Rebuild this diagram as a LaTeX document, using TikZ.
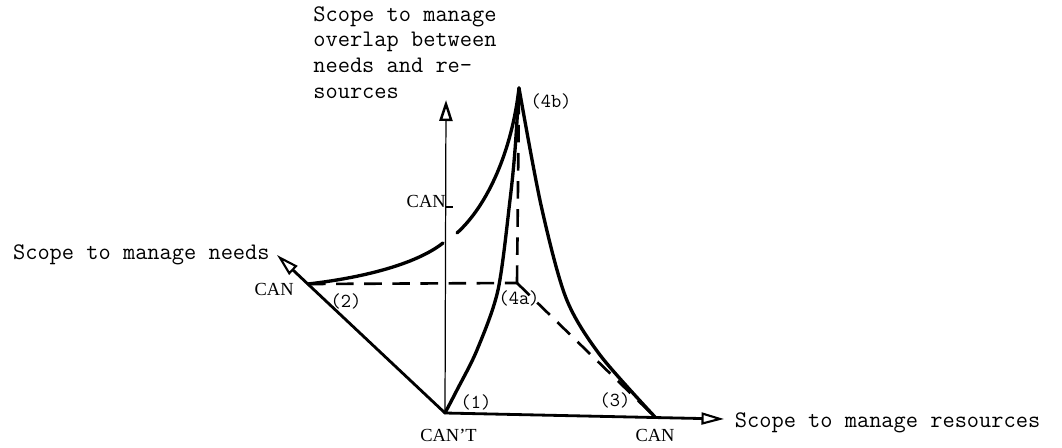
\documentclass[tikz,border=0pt]{standalone}
\usepackage{fontspec}
\setmainfont{Liberation Serif}
\usepackage{tikz}
\usetikzlibrary{arrows.meta,positioning}
\tikzset{
    axisline/.style={line width=1.6pt, -{Triangle[open, length=4.5mm, width=2.4mm, line width=1.2pt]}},
    upaxis/.style={line width=0.7pt, -{Triangle[open, length=4.2mm, width=2.6mm, line width=1.4pt]}},
    bound/.style={line width=1.9pt, line cap=round},
    hidden/.style={line width=1.5pt, dash pattern=on 10pt off 6pt},
    axtitle/.style={font=\ttfamily\fontsize{13.5}{14.7}\selectfont, align=left, inner sep=0pt},
    region/.style={font=\ttfamily\fontsize{11.3}{13}\selectfont, inner sep=0pt},
    level/.style={font=\fontsize{10.5}{12}\selectfont, inner sep=0pt},
}

\begin{document}
\begin{tikzpicture}[x=0.02cm, y=-0.02cm, node distance=4pt]
    \useasboundingbox (0,0) rectangle (1062,447);
    \coordinate (O) at (445,413);
    \coordinate (upEnd) at (446,100);
    \coordinate (needEnd) at (277,255);
    \coordinate (resEnd) at (724,419);
    \coordinate (needCan) at (308,284);
    \coordinate (resCan) at (655,417);
    \coordinate (upCan) at (446,207);
    \coordinate (p4a) at (517,283);
    \coordinate (p4b) at (519,88);
    \coordinate (gapL) at (443,243);
    \coordinate (gapR) at (457,233);

    \draw[upaxis] (O) -- (upEnd);
    \draw[axisline] (O) -- (needEnd);
    \draw[axisline] (O) -- (resEnd);
    \draw[line width=1pt] (upCan) -- ++(7,0);

    \draw[hidden] (needCan) -- (p4a);
    \draw[hidden] (p4a) -- (p4b);
    \draw[hidden] (p4a) -- (resCan);

    \draw[bound] plot[smooth] coordinates {(O) (457,390) (477,350) (498,290) (510,200) (515,150) (p4b)};
    \draw[bound] plot[smooth] coordinates {(resCan) (600,355) (566,298) (541,205) (p4b)};
    \draw[bound] (needCan) .. controls (360,278) and (415,265) .. (gapL);
    \draw[bound] (gapR) .. controls (488,205) and (512,150) .. (p4b);

    \node[axtitle, anchor=north west] (upTitle) at (313,6) {Scope to manage\\overlap between\\needs and re-\\sources};
    \node[axtitle, left=4pt of needEnd] (needTitle) {Scope to manage needs};
    \node[axtitle, right=6pt of resEnd, yshift=-2pt] (resTitle) {Scope to manage resources};

    \node[level, below=9pt of O, xshift=2pt] (cant) {CAN'T};
    \node[level, below=7pt of resCan] (resCanLbl) {CAN};
    \node[level, left=8pt of needCan, yshift=-3pt] (needCanLbl) {CAN};
    \node[level, anchor=base east] (upCanLbl) at (upCan) {CAN};

    \node[region] (r1) at (476,402) {(1)};
    \node[region] (r2) at (346,301) {(2)};
    \node[region] (r3) at (615,400) {(3)};
    \node[region] (r4a) at (519,298) {(4a)};
    \node[region] (r4b) at (551,101) {(4b)};
\end{tikzpicture}
\end{document}
